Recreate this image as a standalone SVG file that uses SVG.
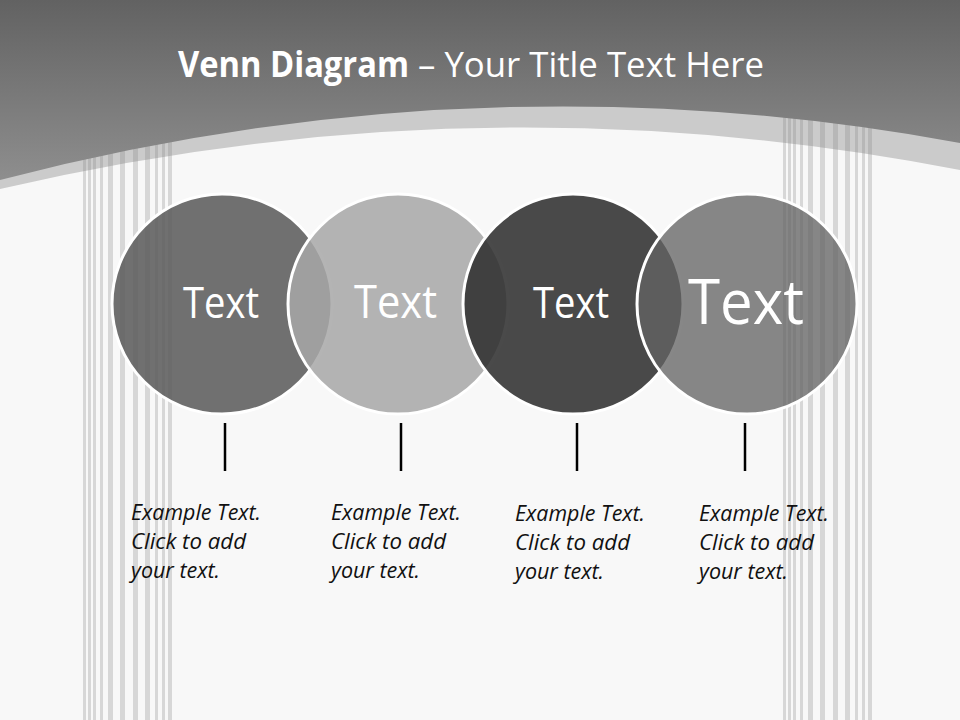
<svg xmlns="http://www.w3.org/2000/svg" xmlns:xlink="http://www.w3.org/1999/xlink" width="960" height="720" viewBox="0 0 960 720">
<style>
.stripe{fill:#8c8c8c;fill-opacity:0.3}
.circ{stroke:#ffffff;stroke-width:3}
.ctext{font-family:"Open Sans","Liberation Sans",sans-serif;fill:#ffffff}
.desc{font-family:"Open Sans","Liberation Sans",sans-serif;font-style:italic;font-size:21px;fill:#111111}
.title{font-family:"Open Sans","Liberation Sans",sans-serif;font-size:35px;fill:#ffffff}
.conn{stroke:#000000;stroke-width:2.5;fill:none}
</style>
<defs>
<linearGradient id="topGrad" x1="0" y1="0" x2="0" y2="1" gradientUnits="objectBoundingBox">
<stop offset="0" stop-color="#626262"/>
<stop offset="1" stop-color="#8e8e8e"/>
</linearGradient>
<g id="stripes">
<rect class="stripe" x="83" y="100" width="3" height="620" fill-opacity="0.18"/>
<rect class="stripe" x="88" y="100" width="3" height="620"/>
<rect class="stripe" x="93" y="100" width="3" height="620"/>
<rect class="stripe" x="100" y="100" width="3" height="620"/>
<rect class="stripe" x="108" y="100" width="5" height="620"/>
<rect class="stripe" x="120" y="100" width="5" height="620"/>
<rect class="stripe" x="133" y="100" width="5" height="620"/>
<rect class="stripe" x="145" y="100" width="5" height="620"/>
<rect class="stripe" x="155" y="100" width="3" height="620"/>
<rect class="stripe" x="162" y="100" width="3" height="620"/>
<rect class="stripe" x="168" y="100" width="4" height="620" fill-opacity="0.2"/>
</g>
</defs>

<!-- background -->
<rect x="0" y="0" width="960" height="720" fill="#f8f8f8"/>
<path d="M0,189 Q480,76.5 960,170 L960,0 L0,0 Z" fill="#cbcbcb"/>
<use xlink:href="#stripes"/>
<use xlink:href="#stripes" transform="translate(700,0)"/>
<path d="M0,180 Q480,54.5 960,143 L960,0 L0,0 Z" fill="url(#topGrad)"/>

<!-- title -->
<g id="title">
<text class="title" x="178" y="77" font-weight="bold" textLength="231" lengthAdjust="spacingAndGlyphs">Venn Diagram</text>
<text class="title" x="418" y="77" textLength="346" lengthAdjust="spacingAndGlyphs">– Your Title Text Here</text>
</g>

<!-- nodes -->
<g id="node1">
<circle class="circ" cx="222" cy="304" r="110" fill="#616161" fill-opacity="0.9"/>
<text class="ctext" x="183" y="318" font-size="43" textLength="76" lengthAdjust="spacingAndGlyphs">Text</text>
</g>
<g id="node2">
<circle class="circ" cx="398" cy="304" r="110" fill="#a7a7a7" fill-opacity="0.85"/>
<text class="ctext" x="354" y="318" font-size="46" textLength="83" lengthAdjust="spacingAndGlyphs">Text</text>
</g>
<g id="node3">
<circle class="circ" cx="573" cy="304" r="110" fill="#2f2f2f" fill-opacity="0.87"/>
<text class="ctext" x="533" y="318" font-size="43" textLength="76" lengthAdjust="spacingAndGlyphs">Text</text>
</g>
<g id="node4">
<circle class="circ" cx="747" cy="304" r="110" fill="#636363" fill-opacity="0.77"/>
<text class="ctext" x="688" y="324" font-size="63" textLength="116" lengthAdjust="spacingAndGlyphs">Text</text>
</g>

<!-- connectors -->
<g id="connectors">
<line class="conn" x1="225" y1="423" x2="225" y2="471"/>
<line class="conn" x1="401" y1="423" x2="401" y2="471"/>
<line class="conn" x1="577" y1="423" x2="577" y2="471"/>
<line class="conn" x1="745" y1="423" x2="745" y2="471"/>
</g>

<!-- descriptions -->
<g id="desc1">
<text class="desc" x="131" y="519.5" textLength="130" lengthAdjust="spacingAndGlyphs">Example Text.</text>
<text class="desc" x="131" y="548.5" textLength="115" lengthAdjust="spacingAndGlyphs">Click to add</text>
<text class="desc" x="131" y="577.5" textLength="89" lengthAdjust="spacingAndGlyphs">your text.</text>
</g>
<g id="desc2">
<text class="desc" x="331" y="519.5" textLength="130" lengthAdjust="spacingAndGlyphs">Example Text.</text>
<text class="desc" x="331" y="548.5" textLength="115" lengthAdjust="spacingAndGlyphs">Click to add</text>
<text class="desc" x="331" y="577.5" textLength="89" lengthAdjust="spacingAndGlyphs">your text.</text>
</g>
<g id="desc3">
<text class="desc" x="515" y="520.5" textLength="130" lengthAdjust="spacingAndGlyphs">Example Text.</text>
<text class="desc" x="515" y="549.5" textLength="115" lengthAdjust="spacingAndGlyphs">Click to add</text>
<text class="desc" x="515" y="578.5" textLength="89" lengthAdjust="spacingAndGlyphs">your text.</text>
</g>
<g id="desc4">
<text class="desc" x="699" y="520.5" textLength="130" lengthAdjust="spacingAndGlyphs">Example Text.</text>
<text class="desc" x="699" y="549.5" textLength="115" lengthAdjust="spacingAndGlyphs">Click to add</text>
<text class="desc" x="699" y="578.5" textLength="89" lengthAdjust="spacingAndGlyphs">your text.</text>
</g>
</svg>
